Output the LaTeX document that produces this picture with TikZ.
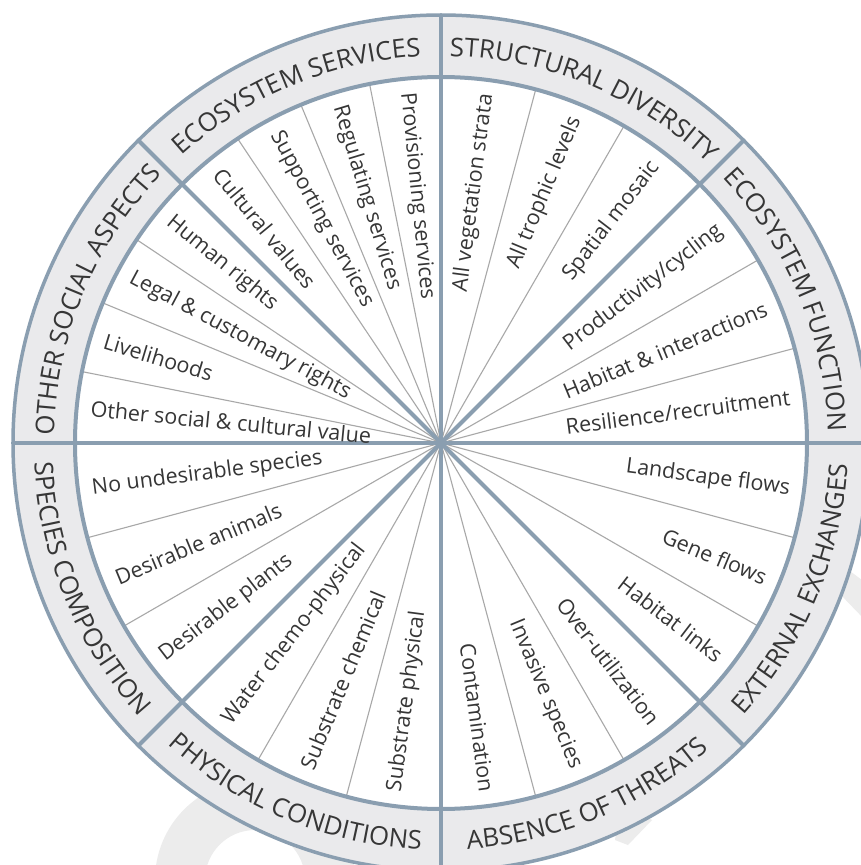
\documentclass[tikz,border=0pt]{standalone}
\usepackage{fontspec}
\setmainfont{Open Sans}
\usetikzlibrary{decorations.text}
\definecolor{rim}{HTML}{8A9EB0}
\definecolor{band}{HTML}{EAEAEC}
\definecolor{ink}{HTML}{363636}
\definecolor{spokegray}{HTML}{A8A8A8}
\definecolor{watermarkgray}{HTML}{ECECEC}
\newcommand\bandfont{\fontsize{25.8}{28}\selectfont}
\begin{document}
\begin{tikzpicture}[x=1pt,y=1pt,
  item/.style={text=ink,inner sep=0pt,font=\fontsize{21.5}{24}\selectfont},
  outward/.style={item,anchor=east},
  inward/.style={item,anchor=west},
  rimline/.style={draw=rim,line width=4pt},
  spoke/.style={draw=spokegray,line width=1.1pt},
  bandtext/.style={decorate,decoration={text along path,text align=center,text color=ink,text={|\bandfont|#1}}}]
\useasboundingbox (-441,-422) rectangle (419,443);
\fill[white] (-441,-422) rectangle (419,443);
% faint watermark behind the wheel
\fill[watermarkgray,even odd rule] (-186,-437) circle[radius=100pt] (-186,-437) circle[radius=50pt];
\fill[watermarkgray] (174,-397)--(187,-402)--(211,-377)--(180,-360)--cycle;
\fill[watermarkgray] (398,-120)--(425,-140)--(425,-178)--(398,-150)--cycle;
% wheel
\coordinate (hub) at (0,0);
\draw[fill=band,draw=rim,line width=3.5pt] (hub) circle[radius=428pt];
\fill[white] (hub) circle[radius=366pt];
% thin spokes between items
\draw[spoke] (hub) -- (75:366);
\draw[spoke] (hub) -- (60:366);
\draw[spoke] (hub) -- (30:366);
\draw[spoke] (hub) -- (15:366);
\draw[spoke] (hub) -- (-15:366);
\draw[spoke] (hub) -- (-30:366);
\draw[spoke] (hub) -- (-60:366);
\draw[spoke] (hub) -- (-75:366);
\draw[spoke] (hub) -- (-105:366);
\draw[spoke] (hub) -- (-120:366);
\draw[spoke] (hub) -- (-150:366);
\draw[spoke] (hub) -- (-165:366);
\draw[spoke] (hub) -- (146.25:366);
\draw[spoke] (hub) -- (157.5:366);
\draw[spoke] (hub) -- (168.75:366);
\draw[spoke] (hub) -- (101.25:366);
\draw[spoke] (hub) -- (112.5:366);
\draw[spoke] (hub) -- (123.75:366);
% thick dividers and inner rim
\draw[rimline] (0:428) -- (180:428);
\draw[rimline] (45:428) -- (225:428);
\draw[rimline] (90:428) -- (270:428);
\draw[rimline] (135:428) -- (315:428);
\draw[rimline] (hub) circle[radius=366pt];
% items, right half
\node[outward,rotate=82.5] (strata) at (82.5:352) {All vegetation strata};
\node[outward,rotate=67.5] (trophic) at (67.5:352) {All trophic levels};
\node[outward,rotate=52.5] (mosaic) at (52.5:352) {Spatial mosaic};
\node[outward,rotate=37.5] (product) at (37.5:352) {Productivity/cycling};
\node[outward,rotate=22.5] (habitat) at (22.5:352) {Habitat \& interactions};
\node[outward,rotate=7.5] (resil) at (7.5:352) {Resilience/recruitment};
\node[outward,rotate=-7.5] (landflow) at (-7.5:352) {Landscape flows};
\node[outward,rotate=-22.5] (geneflow) at (-22.5:352) {Gene flows};
\node[outward,rotate=-37.5] (hablinks) at (-37.5:352) {Habitat links};
\node[outward,rotate=-52.5] (overuse) at (-52.5:352) {Over-utilization};
\node[outward,rotate=-67.5] (invasive) at (-67.5:352) {Invasive species};
\node[outward,rotate=-82.5] (contam) at (-82.5:352) {Contamination};
% items, left half
\node[inward,rotate=-84.375] (provis) at (95.625:352) {Provisioning services};
\node[inward,rotate=-73.125] (regul) at (106.875:352) {Regulating services};
\node[inward,rotate=-61.875] (support) at (118.125:352) {Supporting services};
\node[inward,rotate=-50.625] (cultural) at (129.375:352) {Cultural values};
\node[inward,rotate=-39.375] (human) at (140.625:352) {Human rights};
\node[inward,rotate=-28.125] (legal) at (151.875:352) {Legal \& customary rights};
\node[inward,rotate=-16.875] (liveli) at (163.125:352) {Livelihoods};
\node[inward,rotate=-5.625] (othersoc) at (174.375:352) {Other social \& cultural value};
\node[inward,rotate=7.5] (noundes) at (187.5:352) {No undesirable species};
\node[inward,rotate=22.5] (animals) at (202.5:352) {Desirable animals};
\node[inward,rotate=37.5] (plants) at (217.5:352) {Desirable plants};
\node[inward,rotate=52.5] (water) at (232.5:352) {Water chemo-physical};
\node[inward,rotate=67.5] (subchem) at (247.5:352) {Substrate chemical};
\node[inward,rotate=82.5] (subphys) at (262.5:352) {Substrate physical};
% ring labels
\path[bandtext=ECOSYSTEM SERVICES] (135:387) arc[start angle=135,end angle=90,radius=387pt];
\path[bandtext=STRUCTURAL DIVERSITY] (90:387) arc[start angle=90,end angle=45,radius=387pt];
\path[bandtext=ECOSYSTEM FUNCTION] (45:387) arc[start angle=45,end angle=0,radius=387pt];
\path[bandtext=OTHER SOCIAL ASPECTS] (180:387) arc[start angle=180,end angle=135,radius=387pt];
\path[bandtext=SPECIES COMPOSITION] (180:407) arc[start angle=180,end angle=225,radius=407pt];
\path[bandtext=PHYSICAL CONDITIONS] (225:407) arc[start angle=225,end angle=270,radius=407pt];
\path[bandtext=ABSENCE OF THREATS] (270:407) arc[start angle=270,end angle=315,radius=407pt];
\path[bandtext=EXTERNAL EXCHANGES] (315:407) arc[start angle=315,end angle=360,radius=407pt];
\end{tikzpicture}
\end{document}
